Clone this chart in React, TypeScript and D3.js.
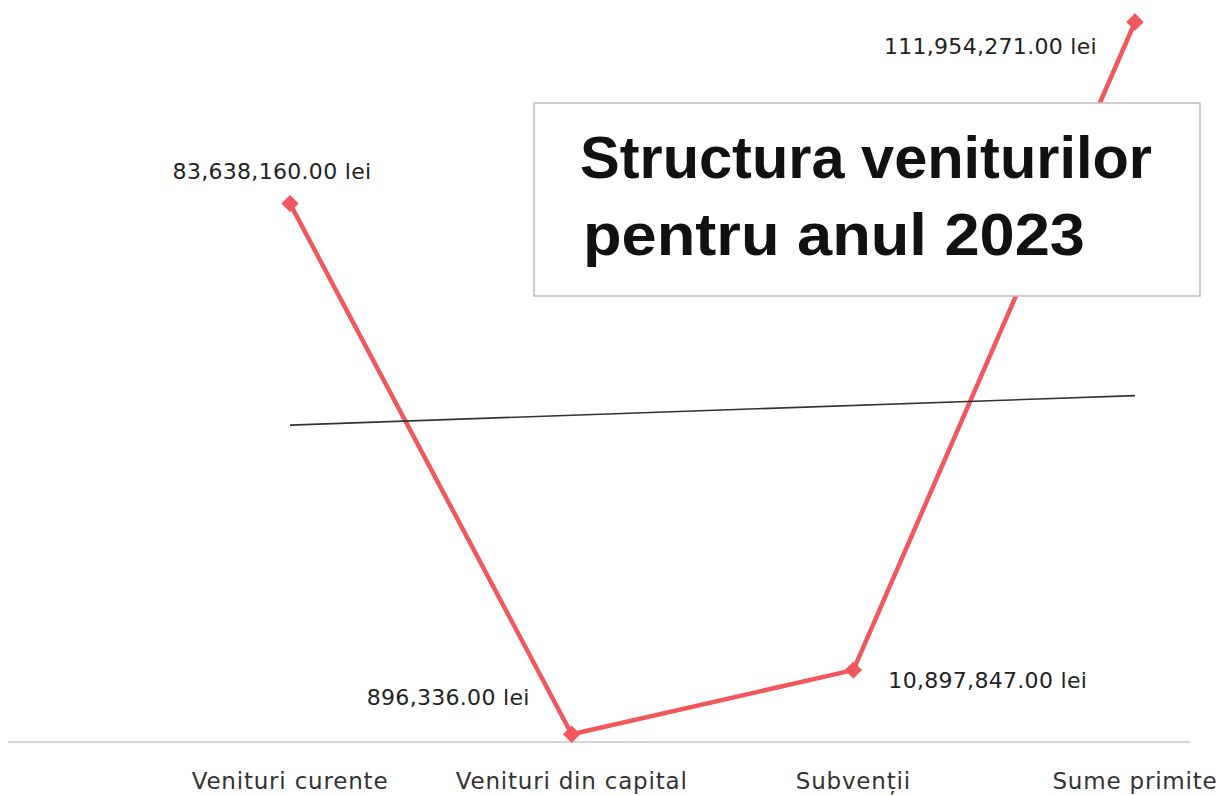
import { useEffect, useRef } from "react";
import * as d3 from "d3";

const WIDTH = 1223;
const HEIGHT = 796;

const categories = ["Venituri curente", "Venituri din capital", "Subvenții", "Sume primite"];
const values = [83638160, 896336, 10897847, 111954271];
// the thin black line runs between the first and the last category
const trendValues = [49.1e6, 53.7e6];
const titleLines = ["Structura veniturilor", "pentru anul 2023"];

// label placement next to each point: [dx, dy, anchor]
const labelOffsets: [number, number, string][] = [
  [-18, -25, "middle"],
  [-42, -29, "end"],
  [35, 18, "start"],
  [-38, 32, "end"],
];

const RED = "#f0585e";
const fmt = d3.format(",.2f");

export default function App() {
  const svgRef = useRef<SVGSVGElement>(null);

  useEffect(() => {
    const svg = d3.select(svgRef.current);
    svg.selectAll("*").remove();

    const x = d3.scalePoint<string>().domain(categories).range([290, 1135]);
    const y = d3.scaleLinear().domain([0, d3.max(values)!]).range([740, 22]);

    svg.append("rect").attr("width", WIDTH).attr("height", HEIGHT).attr("fill", "#fff");

    // baseline
    svg
      .append("line")
      .attr("x1", 8)
      .attr("x2", 1190)
      .attr("y1", y(0) + 2)
      .attr("y2", y(0) + 2)
      .style("stroke", "#c8c8c8")
      .style("stroke-width", 1.5);

    // category labels
    svg
      .selectAll(".cat")
      .data(categories)
      .join("text")
      .attr("class", "cat")
      .attr("x", (d) => x(d)!)
      .attr("y", 789)
      .attr("text-anchor", "middle")
      .style("font-family", "DejaVu Sans")
      .style("font-size", "23px")
      .style("letter-spacing", "0.8px")
      .style("fill", "#333")
      .text((d) => d);

    // red series
    const line = d3
      .line<number>()
      .x((_, i) => x(categories[i])!)
      .y((d) => y(d));

    svg
      .append("path")
      .datum(values)
      .attr("d", line)
      .style("fill", "none")
      .style("stroke", RED)
      .style("stroke-width", 4.5)
      .style("stroke-linejoin", "round");

    svg
      .selectAll(".pt")
      .data(values)
      .join("path")
      .attr("class", "pt")
      .attr("d", d3.symbol(d3.symbolSquare, 150)())
      .attr("transform", (d, i) => `translate(${x(categories[i])},${y(d)}) rotate(45)`)
      .style("fill", RED);

    // black line
    svg
      .append("line")
      .attr("x1", x(categories[0])!)
      .attr("y1", y(trendValues[0]))
      .attr("x2", x(categories[categories.length - 1])!)
      .attr("y2", y(trendValues[1]))
      .style("stroke", "#333")
      .style("stroke-width", 1.6);

    // value labels
    svg
      .selectAll(".val")
      .data(values)
      .join("text")
      .attr("class", "val")
      .attr("x", (d, i) => x(categories[i])! + labelOffsets[i][0])
      .attr("y", (d, i) => y(d) + labelOffsets[i][1])
      .attr("text-anchor", (d, i) => labelOffsets[i][2])
      .style("font-family", "DejaVu Sans")
      .style("font-size", "22px")
      .style("letter-spacing", "0.3px")
      .style("fill", "#222")
      .text((d) => `${fmt(d)} lei`);

    // title box
    svg
      .append("rect")
      .attr("x", 534)
      .attr("y", 103)
      .attr("width", 666)
      .attr("height", 193)
      .style("fill", "#fff")
      .style("stroke", "#bdbdbd")
      .style("stroke-width", 1.5);

    const title = svg
      .append("text")
      .style("font-family", "Liberation Sans")
      .style("font-weight", "bold")
      .style("font-size", "60px")
      .style("fill", "#111");
    title
      .append("tspan")
      .attr("x", 580)
      .attr("y", 178)
      .attr("textLength", 572)
      .attr("lengthAdjust", "spacingAndGlyphs")
      .text(titleLines[0]);
    title
      .append("tspan")
      .attr("x", 583)
      .attr("y", 255)
      .attr("textLength", 502)
      .attr("lengthAdjust", "spacingAndGlyphs")
      .text(titleLines[1]);
  }, []);

  return (
    <svg
      ref={svgRef}
      width={WIDTH}
      height={HEIGHT}
      style={{ position: "fixed", left: 0, top: 0 }}
    ></svg>
  );
}
